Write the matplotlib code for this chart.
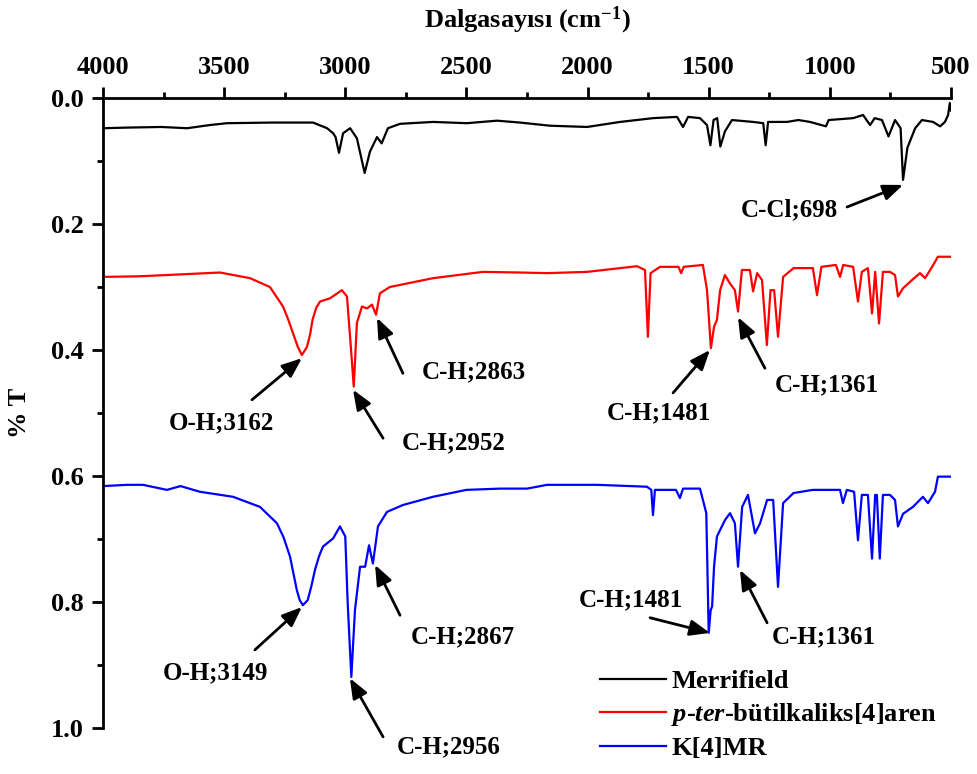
import matplotlib
matplotlib.use("Agg")
import matplotlib.pyplot as plt
from matplotlib.ticker import MultipleLocator

plt.rcParams['font.family'] = 'Liberation Serif'
plt.rcParams['font.weight'] = 'bold'
plt.rcParams['axes.labelweight'] = 'bold'
plt.rcParams['mathtext.fontset'] = 'custom'
plt.rcParams['mathtext.rm'] = 'Liberation Serif:bold'
plt.rcParams['mathtext.it'] = 'Liberation Serif:italic:bold'
plt.rcParams['mathtext.bf'] = 'Liberation Serif:bold'
plt.rcParams['mathtext.default'] = 'rm'

# Merrifield reçinesi (siyah)
wn_merrifield = [4000, 3900, 3760, 3653, 3560, 3488, 3300, 3133, 3075, 3050, 3040, 3026,
                 3009, 2980, 2952, 2920, 2898, 2869, 2850, 2824, 2774, 2638, 2498, 2374,
                 2279, 2155, 2002, 1866, 1730, 1631, 1606, 1585, 1536, 1507, 1493, 1480,
                 1465, 1452, 1433, 1404, 1317, 1275, 1265, 1255, 1177, 1130, 1082, 1016,
                 1005, 904, 863, 834, 815, 785, 758, 731, 708, 698, 680, 648, 620, 574,
                 545, 525, 512, 505, 500]
t_merrifield = [0.048, 0.047, 0.046, 0.048, 0.043, 0.040, 0.039, 0.039, 0.048, 0.056, 0.062, 0.087,
                0.056, 0.048, 0.064, 0.119, 0.085, 0.062, 0.072, 0.048, 0.041, 0.038, 0.040, 0.036,
                0.039, 0.044, 0.046, 0.038, 0.032, 0.030, 0.046, 0.030, 0.032, 0.043, 0.075, 0.035,
                0.032, 0.077, 0.053, 0.035, 0.038, 0.040, 0.075, 0.038, 0.038, 0.035, 0.038, 0.045,
                0.035, 0.032, 0.027, 0.043, 0.032, 0.035, 0.061, 0.035, 0.048, 0.130, 0.079, 0.048,
                0.035, 0.038, 0.045, 0.038, 0.027, 0.008, 0.020]

# p-ter-bütilkaliks[4]aren (kırmızı)
wn_kaliks = [4000, 3850, 3736, 3517, 3393, 3311, 3290, 3257, 3237, 3216, 3196, 3179, 3158, 3145,
             3135, 3120, 3104, 3063, 3014, 2993, 2980, 2965, 2952, 2931, 2910, 2890, 2873, 2857,
             2816, 2638, 2432, 2279, 2167, 2002, 1796, 1763, 1751, 1740, 1701, 1625, 1614, 1603,
             1524, 1507, 1491, 1478, 1466, 1453, 1433, 1413, 1392, 1379, 1363, 1330, 1317, 1300,
             1280, 1260, 1245, 1230, 1214, 1193, 1150, 1070, 1053, 1035, 975, 958, 945, 904, 884,
             868, 843, 826, 813, 797, 781, 752, 731, 719, 698, 661, 628, 607, 578, 554, 500]
t_kaliks = [0.284, 0.283, 0.281, 0.277, 0.286, 0.300, 0.312, 0.331, 0.350, 0.373, 0.395, 0.408, 0.395, 0.375,
            0.352, 0.333, 0.323, 0.318, 0.305, 0.315, 0.380, 0.458, 0.357, 0.331, 0.334, 0.328, 0.344, 0.310,
            0.300, 0.286, 0.276, 0.277, 0.278, 0.276, 0.267, 0.273, 0.379, 0.278, 0.268, 0.268, 0.278, 0.268,
            0.265, 0.305, 0.397, 0.363, 0.352, 0.305, 0.281, 0.294, 0.305, 0.339, 0.273, 0.273, 0.307, 0.278,
            0.289, 0.392, 0.305, 0.305, 0.379, 0.284, 0.270, 0.270, 0.313, 0.268, 0.265, 0.284, 0.265, 0.268, 0.323,
            0.276, 0.270, 0.342, 0.276, 0.358, 0.276, 0.276, 0.281, 0.315, 0.302, 0.289, 0.278, 0.286, 0.268,
            0.252, 0.252]

# K[4]MR (mavi)
wn_k4mr = [4000, 3900, 3835, 3736, 3680, 3600, 3463, 3352, 3282, 3255, 3228, 3200, 3188, 3175, 3155,
           3140, 3125, 3108, 3092, 3050, 3022, 3000, 2990, 2975, 2960, 2939, 2918, 2902, 2886, 2865,
           2828, 2762, 2638, 2500, 2361, 2250, 2167, 1960, 1755, 1737, 1730, 1722, 1635, 1619, 1606,
           1536, 1510, 1500, 1492, 1486, 1478, 1466, 1433, 1412, 1392, 1379, 1362, 1338, 1309, 1288,
           1259, 1234, 1214, 1193, 1150, 1070, 958, 946, 930, 900, 884, 868, 843, 826, 813, 806,
           794, 781, 752, 731, 719, 698, 657, 616, 595, 566, 554, 500]
t_k4mr = [0.616, 0.614, 0.614, 0.622, 0.616, 0.625, 0.633, 0.649, 0.675, 0.697, 0.728, 0.781, 0.797, 0.805, 0.797,
          0.775, 0.749, 0.727, 0.712, 0.699, 0.680, 0.696, 0.802, 0.919, 0.813, 0.744, 0.744, 0.710, 0.739, 0.680,
          0.657, 0.646, 0.633, 0.622, 0.620, 0.620, 0.614, 0.614, 0.617, 0.622, 0.662, 0.622, 0.622, 0.635, 0.620,
          0.620, 0.659, 0.849, 0.813, 0.807, 0.744, 0.696, 0.670, 0.659, 0.675, 0.744, 0.649, 0.630, 0.691, 0.675,
          0.638, 0.638, 0.776, 0.643, 0.627, 0.622, 0.622, 0.643, 0.622, 0.625, 0.702, 0.630, 0.630, 0.731,
          0.630, 0.630, 0.731, 0.630, 0.630, 0.638, 0.680, 0.660, 0.649, 0.633, 0.643, 0.625, 0.601, 0.601]

series_names = ['Merrifield', r'$\mathit{p}$-$\mathit{ter}$-bütilkaliks[4]aren', 'K[4]MR']

# Etiketler: (metin, tepe noktası, ok başlangıcı, metin konumu)
annotations = [
    ('C-Cl;698', (698, 0.138), (929, 0.173), (1169, 0.178)),
    ('O-H;3162', (3179, 0.413), (3385, 0.479), (3513, 0.516)),
    ('C-H;2952', (2968, 0.463), (2844, 0.540), (2551, 0.548)),
    ('C-H;2863', (2869, 0.349), (2762, 0.437), (2469, 0.435)),
    ('C-H;1481', (1495, 0.400), (1647, 0.468), (1705, 0.500)),
    ('C-H;1361', (1379, 0.348), (1268, 0.429), (1012, 0.456)),
    ('O-H;3149', (3179, 0.808), (3373, 0.876), (3534, 0.913)),
    ('C-H;2956', (2981, 0.921), (2844, 1.014), (2572, 1.030)),
    ('C-H;2867', (2877, 0.741), (2774, 0.821), (2514, 0.856)),
    ('C-H;1481', (1495, 0.849), (1742, 0.825), (1821, 0.797)),
    ('C-H;1361', (1371, 0.749), (1259, 0.833), (1024, 0.856)),
]

fig = plt.figure(figsize=(9.77, 7.74), dpi=100)
ax = fig.add_axes([0.1054, 0.0594, 0.868, 0.814])

ax.plot(wn_merrifield, t_merrifield, color='black', lw=1.6, label=series_names[0])
ax.plot(wn_kaliks, t_kaliks, color='#ff0000', lw=1.6, label=series_names[1])
ax.plot(wn_k4mr, t_k4mr, color='#0000ff', lw=1.6, label=series_names[2])

for txt, head, tail, pos in annotations:
    ax.annotate('', xy=head, xytext=tail,
                arrowprops=dict(arrowstyle='-|>,head_length=0.6,head_width=0.24',
                                color='black', lw=2, mutation_scale=20,
                                shrinkA=0, shrinkB=0),
                annotation_clip=False)
    ax.text(pos[0], pos[1], txt, fontsize=18, ha='center', va='center', clip_on=False)

ax.set_xlim(4000, 500)
ax.set_ylim(1.0, 0.0)
ax.xaxis.tick_top()
ax.xaxis.set_label_position('top')
ax.spines['right'].set_visible(False)
ax.spines['bottom'].set_visible(False)
ax.spines['top'].set_linewidth(2)
ax.spines['left'].set_linewidth(2)
ax.xaxis.set_major_locator(MultipleLocator(500))
ax.xaxis.set_minor_locator(MultipleLocator(250))
ax.yaxis.set_major_locator(MultipleLocator(0.2))
ax.yaxis.set_minor_locator(MultipleLocator(0.1))
ax.yaxis.set_major_formatter(matplotlib.ticker.FormatStrFormatter('%.1f'))
ax.tick_params(which='major', length=8, width=2, labelsize=19, pad=6)
ax.tick_params(which='minor', length=4, width=2)

ax.set_xlabel('Dalgasayısı (cm$^{-1}$)', fontsize=19, fontweight='bold', labelpad=20)
ax.set_ylabel('% T', fontsize=19, fontweight='bold', labelpad=14)

ax.legend(loc='upper left', bbox_to_anchor=(600 / 977, 1 - 670 / 774),
          bbox_transform=fig.transFigure, frameon=False, fontsize=19,
          handlelength=2.5, handletextpad=0.2, labelspacing=0.3,
          borderpad=0, borderaxespad=0)

fig.savefig('out.png', dpi=100)
